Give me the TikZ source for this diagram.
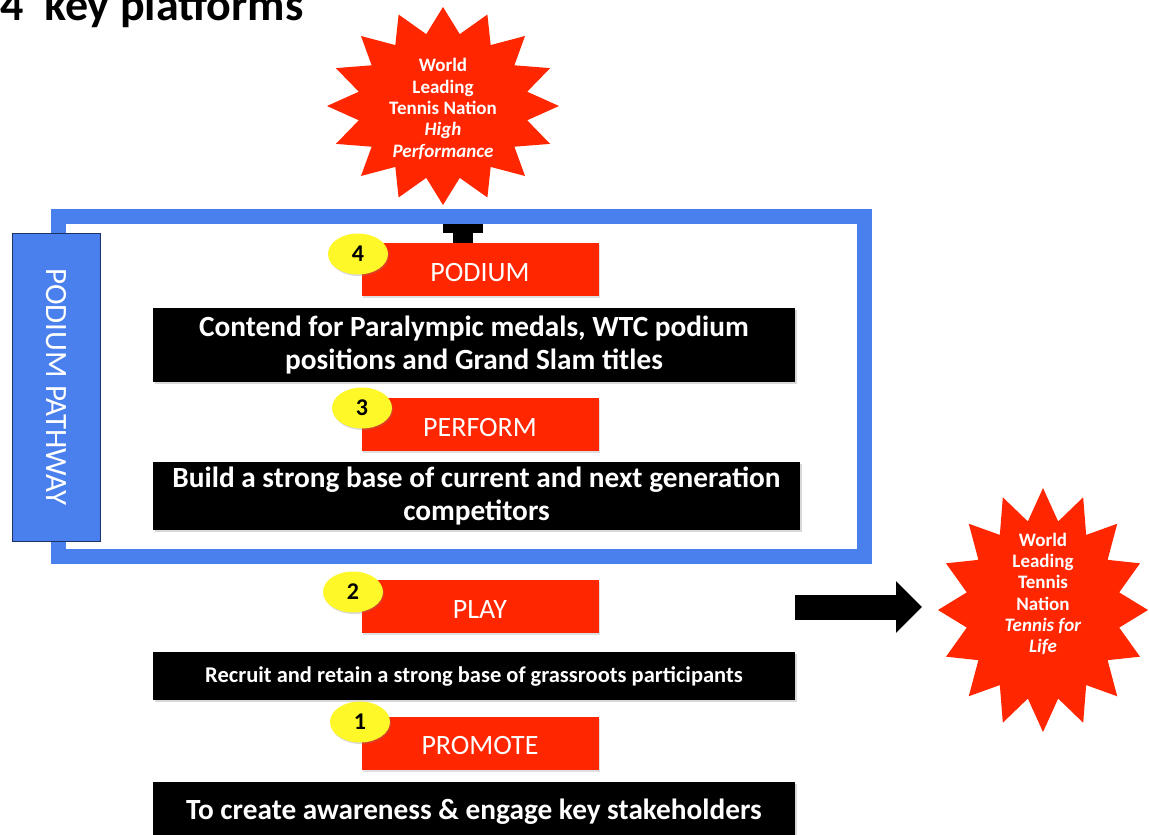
\documentclass[tikz,border=0pt]{standalone}
\usepackage{fontspec}
\setmainfont{Carlito}
\usetikzlibrary{arrows.meta,shapes.geometric,shadows}
\definecolor{tred}{RGB}{255,38,0}
\definecolor{tblue}{RGB}{74,128,238}
\definecolor{tnavy}{RGB}{30,50,100}
\definecolor{tyellow}{RGB}{255,248,40}
\newcommand\drawstar[5]{%
  \fill[#5] plot[samples at={0,...,31}]
    ({#1+#3*(1-0.26*mod(\x,2))*cos(90+11.25*\x)},{#2-#4*(1-0.26*mod(\x,2))*sin(90+11.25*\x)}) -- cycle;}
\begin{document}
\begin{tikzpicture}[x=1pt,y=-1pt,
  redbox/.style={fill=tred, text=white, minimum width=237pt, minimum height=53pt, inner sep=0pt,
    font=\fontsize{28}{30}\selectfont,
    drop shadow={shadow xshift=1.5pt,shadow yshift=-2pt,opacity=0.25}},
  redlabel/.style={text=white, inner sep=0pt, font=\fontsize{28}{30}\selectfont},
  blackbox/.style={fill=black, text=white, inner sep=0pt, align=center,
    font=\bfseries\fontsize{29.3}{33}\selectfont,
    drop shadow={shadow xshift=1.5pt,shadow yshift=-2pt,opacity=0.3}},
  numell/.style={ellipse, fill=tyellow, minimum width=60pt, minimum height=41pt, inner sep=0pt,
    font=\bfseries\fontsize{24}{24}\selectfont,
    drop shadow={shadow xshift=1pt,shadow yshift=-1.5pt,opacity=0.3}},
  startext/.style={text=white, align=center, inner sep=0pt, font=\bfseries\fontsize{19}{21.3}\selectfont},
  blockarrow/.style={line width=25pt, -{Triangle[length=26pt,width=50pt]}},
  uparrow/.style={line width=20pt, -{Rectangle[length=12pt,width=40pt]}},
]
\useasboundingbox (0,0) rectangle (1149,835);
\fill[white] (0,0) rectangle (1149,835);

% title
\node[anchor=base west, inner sep=0pt, font=\bfseries\fontsize{46}{46}\selectfont] (title) at (0,20) {4~~key platforms};

% stars
\drawstar{443}{106}{116}{99}{tred}
\node[startext] (hpstar) at (443,109) {World\\Leading\\Tennis Nation\\\textit{High}\\\textit{Performance}};
\drawstar{1043}{610}{105}{122}{tred}
\node[startext] (lifestar) at (1043,594) {World\\Leading\\Tennis\\Nation\\\textit{Tennis for}\\\textit{Life}};

% red boxes
\node[redbox] (podium) at (480,269.5) {};
\node[redbox] (perform) at (480,424.5) {};
\node[redbox] (play) at (480,606.5) {};
\node[redbox] (promote) at (480,743) {};
\node[redlabel] at ([yshift=-3pt]podium.center) {PODIUM};
\node[redlabel] at ([yshift=-3pt]perform.center) {PERFORM};
\node[redlabel] at ([yshift=-3pt]play.center) {PLAY};
\node[redlabel] at ([yshift=-3pt]promote.center) {PROMOTE};

% small up arrow (mostly hidden behind the frame)
\coordinate (hpTip) at (463,221);
\draw[uparrow] ([xshift=-17pt]podium.north) -- (hpTip);

% blue frame
\node[draw=tblue, line width=15pt, minimum width=806.5pt, minimum height=340.5pt, inner sep=0pt] (frame) at (461.25,386.25) {};

% pathway box
\node[fill=tblue, draw=tnavy, line width=1pt, minimum width=88pt, minimum height=308pt, inner sep=0pt] (pathway) at (56,387) {};
\node[rotate=-90, text=white, font=\fontsize{31}{32}\selectfont] (pathwaytext) at (pathway.center) {PODIUM PATHWAY};

% black boxes
\node[blackbox, minimum width=642pt, minimum height=74pt] (contend) at (474,345)
  {Contend for Paralympic medals, WTC podium\\positions and Grand Slam titles};
\node[blackbox, minimum width=647pt, minimum height=68pt] (build) at (476.5,496)
  {Build a strong base of current and next generation\\competitors};
\node[blackbox, minimum width=642pt, minimum height=48pt, font=\bfseries\fontsize{22.5}{24}\selectfont] (recruit) at (474,676)
  {Recruit and retain a strong base of grassroots participants};
\node[blackbox, minimum width=642pt, minimum height=60pt] (create) at (474,812)
  {To create awareness \& engage key stakeholders};

% number ellipses
\node[numell] (n4) at (358,254) {4};
\node[numell] (n3) at (362,408) {3};
\node[numell] (n2) at (353,592) {2};
\node[numell] (n1) at (360,722) {1};

% big right arrow
\coordinate (arrS) at (795,607);
\coordinate (arrE) at (922,607);
\draw[blockarrow] (arrS) -- (arrE);
\end{tikzpicture}
\end{document}
